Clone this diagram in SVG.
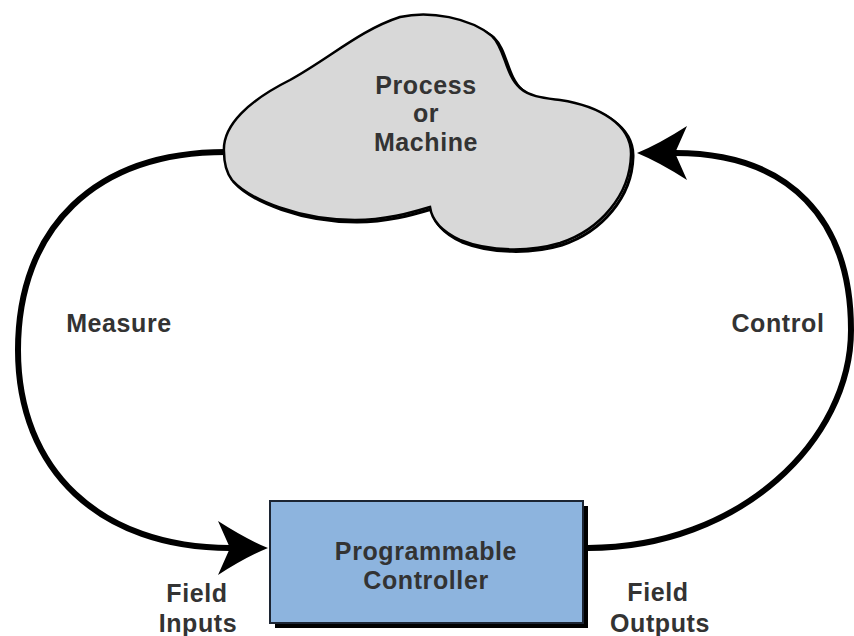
<svg xmlns="http://www.w3.org/2000/svg" width="854" height="636" viewBox="0 0 854 636">
  <style>
    .lbl { font-family: "Liberation Sans", Arial, sans-serif; font-size: 25px; font-weight: bold; fill: #333333; text-anchor: middle; letter-spacing: 0.6px; }
    .conn { fill: none; stroke: #000; stroke-width: 6; }
  </style>
  <defs>
    <marker id="arrow" markerUnits="userSpaceOnUse" markerWidth="60" markerHeight="60" viewBox="0 -30 60 60" refX="12" refY="0" orient="auto">
      <path d="M50,0 Q28,-9 0,-27 L12,0 L0,27 Q28,9 50,0 Z" fill="#000"/>
    </marker>
  </defs>
  <rect width="854" height="636" fill="#fff"/>

  <g id="connectors">
    <path class="conn" d="M226,152 C95,152 18,228 18,350 C18,470 100,548 230,548" marker-end="url(#arrow)"/>
    <path class="conn" d="M588,548 C740,548 851,440 851,330 C851,220 790,153 675,153" marker-end="url(#arrow)"/>
  </g>

  <g id="process">
    <path d="M224,152 C222,125 250,100 290,80 C330,58 360,30 400,17 C430,10 470,18 492,36 C505,48 505,75 520,88 C530,97 545,98 560,100 C600,106 632,125 631,155 C630,195 600,230 560,243 C530,252 490,252 460,240 C445,233 432,222 430,207 C410,213 385,220 355,220 C300,220 250,200 232,180 C226,172 224,162 224,152 Z" fill="none" stroke="#000" stroke-width="3" transform="translate(2,2)"/>
    <path d="M224,152 C222,125 250,100 290,80 C330,58 360,30 400,17 C430,10 470,18 492,36 C505,48 505,75 520,88 C530,97 545,98 560,100 C600,106 632,125 631,155 C630,195 600,230 560,243 C530,252 490,252 460,240 C445,233 432,222 430,207 C410,213 385,220 355,220 C300,220 250,200 232,180 C226,172 224,162 224,152 Z" fill="#d8d8d8" stroke="#000" stroke-width="2.5"/>
    <text class="lbl" x="426" y="94">Process</text>
    <text class="lbl" x="426" y="122">or</text>
    <text class="lbl" x="426" y="151">Machine</text>
  </g>

  <g id="controller">
    <rect x="275" y="506" width="313" height="122" fill="#000"/>
    <rect x="270" y="501" width="313" height="122" fill="#8db4de" stroke="#1c2533" stroke-width="2"/>
    <text class="lbl" x="426" y="560">Programmable</text>
    <text class="lbl" x="426" y="589">Controller</text>
  </g>

  <g id="labels">
    <text class="lbl" x="119" y="332">Measure</text>
    <text class="lbl" x="778" y="332">Control</text>
    <text class="lbl" x="197" y="602">Field</text>
    <text class="lbl" x="198" y="632">Inputs</text>
    <text class="lbl" x="658" y="601">Field</text>
    <text class="lbl" x="660" y="632">Outputs</text>
  </g>
</svg>
